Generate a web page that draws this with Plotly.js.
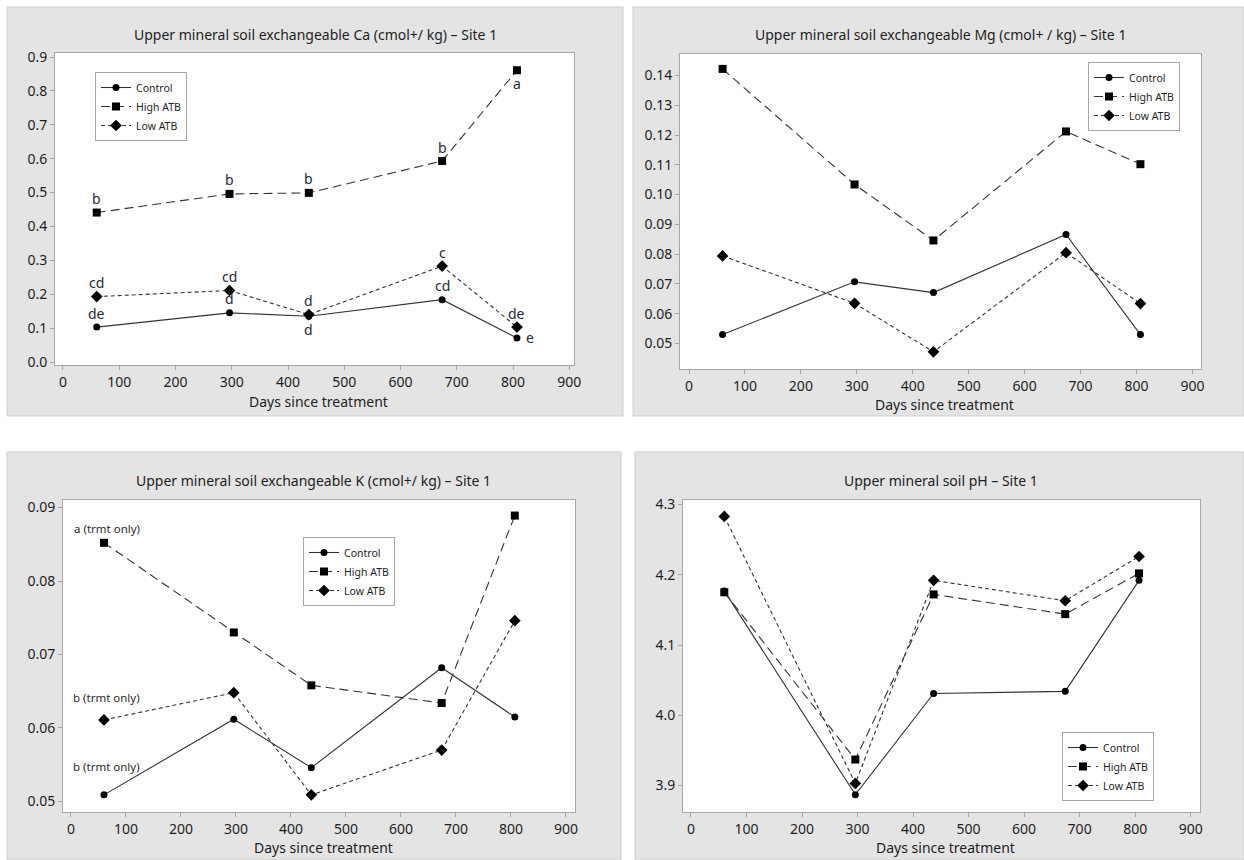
<!DOCTYPE html>
<html>
<head>
<meta charset="utf-8">
<script src="https://cdn.plot.ly/plotly-3.0.1.min.js"></script>
<style>html,body{margin:0;padding:0;background:#fff;}#chart{width:1244px;height:860px;}</style>
</head>
<body>
<div id="chart"></div>
<script>
// ---- data ----
const days = [60, 296, 437, 674, 807];
const seriesNames = ['Control', 'High ATB', 'Low ATB'];

const caControl = [0.103, 0.145, 0.135, 0.184, 0.071];
const caHigh    = [0.441, 0.496, 0.499, 0.593, 0.861];
const caLow     = [0.193, 0.211, 0.140, 0.283, 0.103];
const caControlLetters = ['de', 'd', 'd', 'cd', 'e'];
const caHighLetters    = ['b', 'b', 'b', 'b', 'a'];
const caLowLetters     = ['cd', 'cd', 'd', 'c', 'de'];

const mgControl = [0.0530, 0.0707, 0.0671, 0.0866, 0.0530];
const mgHigh    = [0.1422, 0.1034, 0.0846, 0.1212, 0.1102];
const mgLow     = [0.0794, 0.0635, 0.0472, 0.0805, 0.0634];

const kControl = [0.0509, 0.0612, 0.0546, 0.0682, 0.0615];
const kHigh    = [0.0852, 0.0730, 0.0658, 0.0634, 0.0889];
const kLow     = [0.0611, 0.0648, 0.0509, 0.0570, 0.0746];
const kNotes   = ['a (trmt only)', 'b (trmt only)', 'b (trmt only)'];
const kNoteY   = [0.0871, 0.0641, 0.0547];

const phControl = [4.177, 3.887, 4.031, 4.034, 4.192];
const phHigh    = [4.175, 3.937, 4.172, 4.144, 4.202];
const phLow     = [4.283, 3.903, 4.192, 4.163, 4.226];

const titles = [
  'Upper mineral soil exchangeable Ca (cmol+/ kg) \u2013 Site 1',
  'Upper mineral soil exchangeable Mg (cmol+ / kg) \u2013 Site 1',
  'Upper mineral soil exchangeable K (cmol+/ kg) \u2013 Site 1',
  'Upper mineral soil pH \u2013 Site 1'
];
const xTitle = 'Days since treatment';

// ---- styling / layout helpers ----
const W = 1244, H = 860;
const px = v => v / W;
const py = v => 1 - v / H;
const FONT = 'Noto Sans, Open Sans, sans-serif';
const TXT = '#1e1e1e';
const LINE = '#333333';

const styles = [
  {dash: 'solid', symbol: 'circle', size: 7},
  {dash: '9px,5px', symbol: 'square', size: 8},
  {dash: '4px,3px', symbol: 'diamond', size: 9}
];

const panels = [
  {data: [caControl, caHigh, caLow], ax: '', plot: [55, 574, 53, 365], xr: [-14.2, 908.4], yr: [-0.00885, 0.9118], dtick: 0.1, fmt: '.1f',
   bg: [7, 623, 7, 416], titleX: 315, titleY: 35, xtY: 401, legend: [95, 72]},
  {data: [mgControl, mgHigh, mgLow], ax: '2', plot: [680, 1201, 54, 369], xr: [-16.1, 915.3], yr: [0.04144, 0.1472], dtick: 0.01, fmt: '.2f',
   bg: [633, 1244, 7, 416], titleX: 940, titleY: 34, xtY: 404, legend: [1088, 62]},
  {data: [kControl, kHigh, kLow], ax: '3', plot: [63, 575, 500, 812], xr: [-14.5, 916.4], yr: [0.04857, 0.09102], dtick: 0.01, fmt: '.2f',
   bg: [7, 621, 452, 860], titleX: 314, titleY: 480, xtY: 847, legend: [303, 537]},
  {data: [phControl, phHigh, phLow], ax: '4', plot: [683, 1200, 500, 812], xr: [-14.4, 916.8], yr: [3.8623, 4.3064], dtick: 0.1, fmt: '.1f',
   bg: [635, 1244, 452, 860], titleX: 941, titleY: 480, xtY: 847, legend: [1062, 732]}
];

const traces = [];
const shapes = [];
const annotations = [];
const layout = {
  width: W, height: H,
  margin: {l: 0, r: 0, t: 0, b: 0},
  paper_bgcolor: '#ffffff',
  plot_bgcolor: '#ffffff',
  font: {family: FONT, color: TXT, size: 13},
  showlegend: true
};

panels.forEach((p, i) => {
  const xa = 'xaxis' + p.ax, ya = 'yaxis' + p.ax;
  const legendName = i === 0 ? 'legend' : 'legend' + (i + 1);
  layout[xa] = {
    domain: [px(p.plot[0]), px(p.plot[1])],
    range: p.xr, tick0: 0, dtick: 100,
    showline: true, mirror: true, linecolor: '#a6a6a6', linewidth: 1,
    ticks: 'outside', ticklen: 4, tickcolor: '#a6a6a6',
    showgrid: false, zeroline: false,
    tickfont: {family: FONT, size: 14, color: TXT},
    anchor: 'y' + p.ax, fixedrange: true
  };
  layout[ya] = {
    domain: [py(p.plot[3]), py(p.plot[2])],
    range: p.yr, dtick: p.dtick, tickformat: p.fmt,
    showline: true, mirror: true, linecolor: '#a6a6a6', linewidth: 1,
    ticks: 'outside', ticklen: 4, tickcolor: '#a6a6a6',
    showgrid: false, zeroline: false,
    tickfont: {family: FONT, size: 14, color: TXT},
    anchor: 'x' + p.ax, fixedrange: true
  };
  layout[legendName] = {
    x: px(p.legend[0]), y: py(p.legend[1]), xanchor: 'left', yanchor: 'top',
    bgcolor: '#ffffff', bordercolor: '#a6a6a6', borderwidth: 1,
    font: {family: FONT, size: 10.5, color: TXT},
    tracegroupgap: 0, itemwidth: 30
  };
  // grey panel background
  shapes.push({type: 'rect', xref: 'paper', yref: 'paper', layer: 'below',
    x0: px(p.bg[0]), x1: px(p.bg[1]), y0: py(p.bg[3]), y1: py(p.bg[2]),
    fillcolor: '#e4e4e4', line: {color: '#cfcfcf', width: 1}});
  // white plotting area
  shapes.push({type: 'rect', xref: 'paper', yref: 'paper', layer: 'below',
    x0: px(p.plot[0]), x1: px(p.plot[1]), y0: py(p.plot[3]), y1: py(p.plot[2]),
    fillcolor: '#ffffff', line: {width: 0}});
  annotations.push({xref: 'paper', yref: 'paper', x: px(p.titleX), y: py(p.titleY),
    text: titles[i], showarrow: false, xanchor: 'center', yanchor: 'middle',
    font: {family: FONT, size: 14, color: TXT}});
  annotations.push({xref: 'paper', yref: 'paper', x: px((p.plot[0] + p.plot[1]) / 2 + 4), y: py(p.xtY),
    text: xTitle, showarrow: false, xanchor: 'center', yanchor: 'middle',
    font: {family: FONT, size: 14, color: TXT}});
  p.data.forEach((vals, s) => {
    traces.push({
      type: 'scatter', mode: 'lines+markers',
      x: days, y: vals, name: seriesNames[s],
      xaxis: 'x' + p.ax, yaxis: 'y' + p.ax, legend: legendName,
      line: {color: LINE, width: 1.1, dash: styles[s].dash},
      marker: {symbol: styles[s].symbol, size: styles[s].size, color: '#000000'},
      hoverinfo: 'x+y'
    });
  });
});

// significance letters on the Ca panel
function addLetters(letters, vals, placement) {
  letters.forEach((t, j) => {
    const pos = placement[j];
    const a = {xref: 'x', yref: 'y', x: days[j], y: vals[j], text: t, showarrow: false,
      xanchor: 'center', yanchor: 'middle', font: {family: FONT, size: 14, color: '#262a36'}};
    if (pos === 'above') a.yshift = 14;
    if (pos === 'below') a.yshift = -13;
    if (pos === 'right') a.xshift = 13;
    annotations.push(a);
  });
}
addLetters(caHighLetters, caHigh, ['above', 'above', 'above', 'above', 'below']);
addLetters(caLowLetters, caLow, ['above', 'above', 'above', 'above', 'above']);
addLetters(caControlLetters, caControl, ['above', 'above', 'below', 'above', 'right']);

// notes on the K panel
kNotes.forEach((t, j) => {
  annotations.push({xref: 'x3', yref: 'y3', x: 65, y: kNoteY[j], text: t, showarrow: false,
    xanchor: 'center', yanchor: 'middle', font: {family: FONT, size: 11.5, color: '#2a2a2a'}});
});

layout.shapes = shapes;
layout.annotations = annotations;

Plotly.newPlot('chart', traces, layout, {displayModeBar: false, staticPlot: true});
</script>
</body>
</html>
